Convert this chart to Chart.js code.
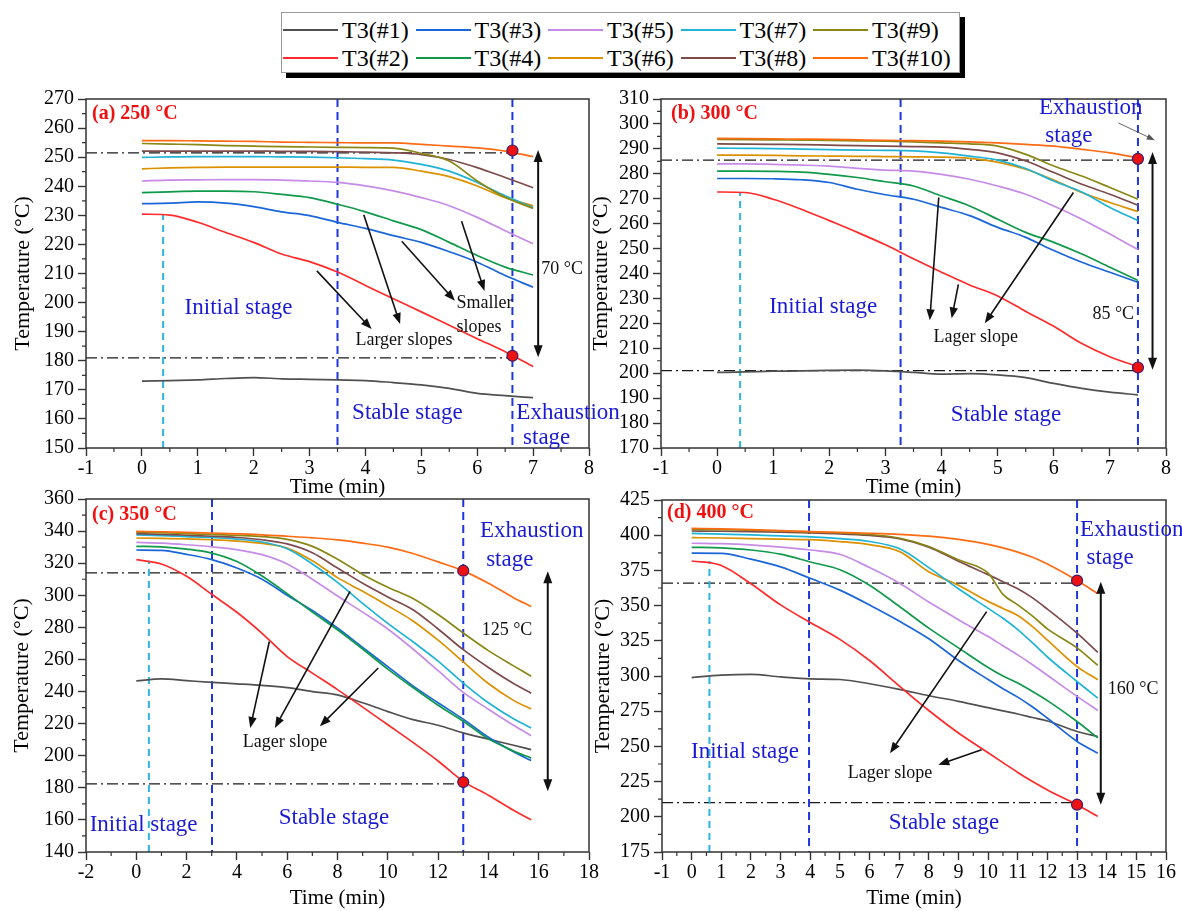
<!DOCTYPE html>
<html>
<head>
<meta charset="utf-8">
<script src="https://cdn.jsdelivr.net/npm/chart.js@4.4.0/dist/chart.umd.min.js"></script>
<style>
html,body{margin:0;padding:0;background:#fff;}
#wrap{position:relative;width:1182px;height:911px;overflow:hidden;background:#fff;}
#wrap canvas{position:absolute;}
#legend{position:absolute;left:281px;top:12px;width:677px;height:59px;border:1px solid #9a9a9a;box-shadow:5px 5px 0 #000;background:#fff;
  font-family:'Liberation Serif','Times New Roman',serif;font-size:24px;color:#000;z-index:5;}
.li{position:absolute;height:28px;display:flex;align-items:center;white-space:nowrap;}
.li .ln{width:55px;height:2px;margin-right:4px;}
</style>
</head>
<body>
<div id="wrap"><div id="legend"></div></div>
<script>
// ---------------- series meta ----------------
const seriesNames = ['T3(#1)','T3(#2)','T3(#3)','T3(#4)','T3(#5)','T3(#6)','T3(#7)','T3(#8)','T3(#9)','T3(#10)'];
const seriesColors = ['#505050','#ff2a2a','#1a66d9','#10994a','#c68be6','#dc9100','#1fb3d6','#7d4b4b','#8a8715','#ff6b13'];

// ---------------- panel (a) 250 °C ----------------
const timeA = [0,0.5,1,1.5,2,2.5,3,3.5,4,4.5,5,5.5,6,6.5,7];
const aT1  = [173.0,173.2,173.4,173.9,174.2,173.8,173.6,173.4,173.2,172.5,171.7,170.5,168.8,168.0,167.3];
const aT2  = [230.4,230.1,227.6,224.1,220.7,216.7,214.1,210.5,205.9,201.3,196.8,192.2,187.6,183.1,178.0];
const aT3  = [234.0,234.2,234.6,234.2,233.0,231.2,229.9,227.6,225.5,223.0,220.7,217.5,213.9,209.3,205.3];
const aT4  = [237.8,238.1,238.3,238.3,238.1,237.2,236.1,233.8,231.2,228.1,225.1,220.7,216.2,212.2,209.5];
const aT5  = [241.8,242.1,242.2,242.3,242.3,242.1,241.8,241.3,240.1,238.4,236.1,233.3,229.3,224.7,220.2];
const aT6  = [246.0,246.3,246.5,246.6,246.6,246.6,246.6,246.6,246.5,246.5,245.2,243.3,240.1,236.1,233.3];
const aT7  = [249.9,250.1,250.2,250.2,250.2,250.1,250.0,249.8,249.5,249.0,247.5,245.2,241.3,236.7,232.7];
const aT8  = [252.1,252.1,252.1,252.1,252.1,252.0,252.0,251.9,251.7,251.5,250.9,249.2,246.4,243.0,239.5];
const aT9  = [254.7,254.5,254.3,254.0,253.8,253.6,253.5,253.4,253.3,253.1,251.3,248.7,241.8,236.2,232.4];
const aT10 = [255.7,255.7,255.6,255.5,255.4,255.2,255.1,255.0,254.9,254.9,254.4,253.8,253.2,252.1,250.2];
const dotsA = [[6.63,252.3],[6.63,181.7]];

// ---------------- panel (b) 300 °C ----------------
const timeB = [0,0.5,1,1.5,2,2.5,3,3.5,4,4.5,5,5.5,6,6.5,7,7.5];
const bT1  = [200.3,200.5,200.8,200.9,201.1,201.2,200.9,200.3,199.6,199.8,199.3,198.2,195.9,193.9,192.4,191.3];
const bT2  = [272.7,272.5,269.8,265.8,261.2,256.5,251.5,245.9,240.5,235.4,231.0,224.8,218.8,211.9,206.6,202.6];
const bT3  = [278.1,278.1,278.0,277.6,276.5,273.8,271.6,269.8,266.5,263.2,258.5,254.5,249.2,244.5,240.5,236.5];
const bT4  = [281.1,281.1,281.0,280.7,279.8,278.5,276.8,275.1,271.1,267.1,261.8,256.5,252.5,247.8,242.5,237.2];
const bT5  = [284.0,284.0,283.8,283.5,283.1,282.2,281.5,281.1,279.8,277.8,275.1,271.8,267.1,261.8,255.8,249.6];
const bT6  = [287.5,287.5,287.4,287.2,287.1,287.0,286.9,286.8,286.7,286.2,284.7,281.8,277.5,272.5,268.5,264.8];
const bT7  = [290.3,290.2,290.1,289.9,289.7,289.5,289.4,289.2,288.4,287.1,285.5,282.1,277.1,272.7,266.5,261.2];
const bT8  = [292.0,291.9,291.8,291.7,291.5,291.3,291.1,290.9,290.7,289.8,288.4,285.1,280.5,275.8,271.8,267.4];
const bT9  = [293.8,293.7,293.6,293.5,293.4,293.2,293.1,292.8,292.4,292.0,291.1,287.8,283.1,279.1,274.5,269.8];
const bT10 = [294.2,294.1,294.0,293.9,293.8,293.6,293.4,293.3,293.1,292.8,292.4,291.8,291.1,289.8,288.4,286.4];
const dotsB = [[7.5,286.0],[7.5,202.3]];

// ---------------- panel (c) 350 °C ----------------
const timeC = [0,1,2,3,4,5,6,7,8,9,10,11,12,13,14,15,15.7];
const cT1  = [246.6,247.9,246.8,245.7,244.8,243.8,242.4,240.0,237.9,233.0,227.5,222.5,219.0,214.2,210.3,206.5,203.8];
const cT2  = [322.2,319.5,311.8,300.6,289.4,276.3,261.8,251.5,241.2,230.3,219.3,208.3,196.7,184.0,175.4,166.0,160.1];
const cT3  = [328.2,328.0,325.5,322.2,317.0,310.0,300.0,290.5,279.6,267.5,255.5,243.5,233.0,222.8,211.5,202.5,197.0];
const cT4  = [330.5,330.2,328.8,326.3,321.0,312.0,301.0,289.5,278.5,266.5,254.0,242.5,231.5,221.5,210.5,203.0,198.5];
const cT5  = [333.0,332.5,331.5,330.2,328.4,325.3,319.5,310.0,299.5,289.5,279.0,266.5,253.0,239.5,229.0,219.0,212.5];
const cT6  = [335.7,335.4,335.1,334.6,333.8,332.3,329.4,321.5,311.0,302.5,293.5,284.0,272.0,258.5,245.0,234.5,229.1];
const cT7  = [337.6,337.2,336.6,336.0,335.0,333.2,329.0,319.5,308.0,295.0,282.5,271.0,259.0,245.3,233.0,223.0,217.3];
const cT8  = [338.4,338.0,337.4,336.8,336.0,334.6,332.0,326.5,317.0,307.5,299.0,291.0,279.0,266.1,255.0,245.0,239.0];
const cT9  = [339.4,339.0,338.4,337.9,337.3,336.6,334.8,330.5,322.5,313.0,305.0,298.0,288.0,276.5,265.5,256.0,249.5];
const cT10 = [339.8,339.6,339.2,338.8,338.3,337.7,336.8,335.8,334.5,332.5,330.0,326.0,320.8,315.2,307.5,298.5,293.0];
const dotsC = [[13,315.3],[13,183.6]];

// ---------------- panel (d) 400 °C ----------------
const timeD = [0,1,2,3,4,5,6,7,8,9,10,10.5,11,11.5,12,13,13.7];
const dT1  = [298.9,300.6,301.2,299.4,298.0,297.5,294.5,290.5,286.0,282.0,277.5,275.2,273.0,270.5,268.0,260.6,257.0];
const dT2  = [381.7,378.5,365.5,350.5,338.0,326.0,311.0,293.0,275.5,259.5,245.5,238.5,231.5,225.0,219.0,208.6,200.3];
const dT3  = [387.2,387.1,383.0,377.5,369.4,361.0,350.5,339.0,326.5,311.0,297.5,291.0,285.0,278.0,270.0,253.5,245.2];
const dT4  = [391.4,391.0,389.5,386.5,381.0,375.5,364.5,349.5,334.0,320.0,306.0,300.0,295.0,289.0,282.5,267.7,256.0];
const dT5  = [394.3,394.0,393.1,391.5,389.5,386.5,377.0,366.0,352.5,340.0,328.0,321.5,315.0,308.0,300.5,285.5,275.5];
const dT6  = [398.3,398.0,397.6,397.2,396.8,395.5,393.3,388.5,374.0,364.5,353.0,348.0,343.0,335.0,325.5,306.7,297.3];
const dT7  = [401.3,400.8,400.2,399.5,398.8,397.5,395.5,390.5,377.0,362.0,348.0,341.0,333.0,323.5,313.5,296.1,284.3];
const dT8  = [403.0,402.8,402.5,402.1,401.6,401.0,399.8,397.5,391.5,381.5,372.0,367.0,362.0,355.5,347.5,330.4,316.7];
const dT9  = [404.2,404.0,403.6,403.0,402.3,401.6,400.5,398.0,392.0,382.5,373.0,358.0,350.5,342.5,333.5,320.0,307.5];
const dT10 = [404.9,404.5,404.0,403.3,402.5,402.0,401.4,400.6,399.3,397.0,393.5,391.0,388.0,384.3,379.5,367.8,358.5];
const dotsD = [[13,367.8],[13,208.6]];

// ---------------- annotations (data coordinates) ----------------
const annA = {
  label:'(a) 250 °C', labelDx:6, labelDy:15,
  cyanX:0.38, cyanTop:230.2, blueX:[3.5,6.63], hLines:[251.5,181.0], hEnd:6.63,
  dbl:[7.09,252.5,181.2],
  arrows:[[3.13,210.9,4.11,190.9],[3.97,230.2,4.62,192.6],[4.65,221.1,5.60,200.6],[5.72,228.0,6.13,204.0]],
  thin:[],
  black:[['70 °C',7.52,211.6,'center'],['Larger slopes',4.69,186.9,'center'],['Smaller',5.63,199.6,'left'],['slopes',5.63,191.4,'left']],
  blue:[['Initial stage',1.73,198.2,'center'],['Stable stage',4.75,162.0,'center'],['Exhaustion',6.70,162.0,'left'],['stage',6.82,153.3,'left']]
};
const annB = {
  label:'(b) 300 °C', labelDx:10, labelDy:15,
  cyanX:0.41, cyanTop:272.6, blueX:[3.27,7.5], hLines:[285.5,201.0], hEnd:7.5,
  dbl:[7.76,288.7,201.4],
  arrows:[[3.95,270.5,3.79,221.2],[4.30,235.6,4.18,222.0],[6.35,272.5,4.77,220.0]],
  thin:[[7.15,300.4,7.80,293.5]],
  black:[['85 °C',7.06,223.7,'center'],['Lager slope',4.61,214.6,'center']],
  blue:[['Initial stage',1.89,226.5,'center'],['Stable stage',5.15,183.4,'center'],['Exhaustion',6.66,306.3,'center'],['stage',6.27,295.1,'center']]
};
const annC = {
  label:'(c) 350 °C', labelDx:6, labelDy:16,
  cyanX:0.5, cyanTop:321.5, blueX:[3.01,13], hLines:[313.9,182.5], hEnd:13,
  dbl:[16.36,314.9,177.8],
  arrows:[[5.29,271.2,4.53,217.3],[8.50,302.4,5.51,217.3],[9.62,254.7,7.30,218.3]],
  thin:[],
  black:[['125 °C',14.74,278.5,'center'],['Lager slope',5.91,208.1,'center']],
  blue:[['Initial stage',0.29,157.0,'center'],['Stable stage',7.86,161.2,'center'],['Exhaustion',15.72,339.8,'center'],['stage',14.85,322.2,'center']]
};
const annD = {
  label:'(d) 400 °C', labelDx:5, labelDy:13,
  cyanX:0.6, cyanTop:381.5, blueX:[3.96,13], hLines:[366.0,210.0], hEnd:13,
  dbl:[13.8,367.0,208.6],
  arrows:[[9.95,345.7,6.69,245.2],[9.78,247.6,8.32,236.9]],
  thin:[],
  black:[['160 °C',14.89,290.9,'center'],['Lager slope',6.69,231.0,'center']],
  blue:[['Initial stage',1.8,246.2,'center'],['Stable stage',8.51,195.8,'center'],['Exhaustion',13.1,403.7,'left'],['stage',13.32,383.6,'left']]
};

// ---------------- styling ----------------
const FONT = "'Liberation Serif','Times New Roman',serif";
const AXIS = '#333333';
const CYAN = '#2bb6e3';
const BLUE_LINE = '#1f35e0';
const BLUE_TEXT = '#1a1ad4';

const panels = [
  {id:'a', left:0,   top:85,  w:640, h:420, area:{l:86,t:12,r:589,b:363}, xMin:-1, xMax:8,  xStep:1, xMinor:0.5, yMin:150, yMax:270, yStep:10, yMinor:5,
   time:timeA, series:[aT1,aT2,aT3,aT4,aT5,aT6,aT7,aT8,aT9,aT10], dots:dotsA, yTitlePad:10, xTitlePad:5, ann:annA},
  {id:'b', left:575, top:85,  w:607, h:420, area:{l:86,t:12,r:591,b:363}, xMin:-1, xMax:8,  xStep:1, xMinor:0.5, yMin:170, yMax:310, yStep:10, yMinor:5,
   time:timeB, series:[bT1,bT2,bT3,bT4,bT5,bT6,bT7,bT8,bT9,bT10], dots:dotsB, yTitlePad:13.5, xTitlePad:5, ann:annB},
  {id:'c', left:0,   top:485, w:640, h:426, area:{l:86,t:14,r:589,b:367}, xMin:-2, xMax:18, xStep:2, xMinor:1,   yMin:140, yMax:360, yStep:20, yMinor:10,
   time:timeC, series:[cT1,cT2,cT3,cT4,cT5,cT6,cT7,cT8,cT9,cT10], dots:dotsC, yTitlePad:9, xTitlePad:0, ann:annC},
  {id:'d', left:575, top:485, w:607, h:426, area:{l:87,t:15,r:591,b:367}, xMin:-1, xMax:16, xStep:1, xMinor:0.5, yMin:175, yMax:425, yStep:25, yMinor:12.5,
   time:timeD, series:[dT1,dT2,dT3,dT4,dT5,dT6,dT7,dT8,dT9,dT10], dots:dotsD, yTitlePad:15.5, xTitlePad:0, ann:annD}
];

// ---------------- legend (HTML) ----------------
(function buildLegend(){
  const lg = document.getElementById('legend');
  const order = [[0,2,4,6,8],[1,3,5,7,9]];
  order.forEach((row, r) => {
    row.forEach((si, c) => {
      const d = document.createElement('div');
      d.className = 'li';
      d.style.left = (1 + c*132.5) + 'px';
      d.style.top = (r === 0 ? 3 : 31) + 'px';
      const ln = document.createElement('span');
      ln.className = 'ln'; ln.style.background = seriesColors[si];
      const tx = document.createElement('span');
      tx.textContent = seriesNames[si];
      d.appendChild(ln); d.appendChild(tx);
      lg.appendChild(d);
    });
  });
})();

// ---------------- drawing helpers ----------------
function arrowHead(ctx, x1, y1, x2, y2, len, half) {
  const a = Math.atan2(y2 - y1, x2 - x1);
  const bx = x2 - len * Math.cos(a), by = y2 - len * Math.sin(a);
  ctx.beginPath();
  ctx.moveTo(x2, y2);
  ctx.lineTo(bx + half * Math.sin(a), by - half * Math.cos(a));
  ctx.lineTo(bx - half * Math.sin(a), by + half * Math.cos(a));
  ctx.closePath();
  ctx.fill();
}
function arrowLine(ctx, x1, y1, x2, y2, len, half, both) {
  const a = Math.atan2(y2 - y1, x2 - x1);
  const sx = both ? x1 + len * 0.7 * Math.cos(a) : x1;
  const sy = both ? y1 + len * 0.7 * Math.sin(a) : y1;
  ctx.beginPath();
  ctx.moveTo(sx, sy);
  ctx.lineTo(x2 - len * 0.7 * Math.cos(a), y2 - len * 0.7 * Math.sin(a));
  ctx.stroke();
  arrowHead(ctx, x1, y1, x2, y2, len, half);
  if (both) arrowHead(ctx, x2, y2, x1, y1, len, half);
}
function isMajor(v, step) {
  const r = v / step;
  return Math.abs(r - Math.round(r)) < 1e-6;
}

function makePlugin(p) {
  const A = p.ann;
  return {
    id: 'annot_' + p.id,
    beforeDatasetsDraw(chart) {
      const {ctx, chartArea: ca, scales: {x, y}} = chart;
      ctx.save();
      // dash-dot horizontal lines
      ctx.strokeStyle = '#1a1a1a'; ctx.lineWidth = 1.3; ctx.setLineDash([11, 4, 2, 4]);
      A.hLines.forEach(v => {
        const yy = y.getPixelForValue(v);
        ctx.beginPath(); ctx.moveTo(ca.left, yy); ctx.lineTo(x.getPixelForValue(A.hEnd), yy); ctx.stroke();
      });
      // cyan dashed (initial stage end)
      ctx.strokeStyle = CYAN; ctx.lineWidth = 2; ctx.setLineDash([7, 5]);
      const cx = x.getPixelForValue(A.cyanX);
      ctx.beginPath(); ctx.moveTo(cx, ca.bottom); ctx.lineTo(cx, y.getPixelForValue(A.cyanTop)); ctx.stroke();
      // blue dashed stage boundaries
      ctx.strokeStyle = BLUE_LINE; ctx.lineWidth = 2; ctx.setLineDash([8, 5]);
      A.blueX.forEach(v => {
        const xx = x.getPixelForValue(v);
        ctx.beginPath(); ctx.moveTo(xx, ca.top); ctx.lineTo(xx, ca.bottom); ctx.stroke();
      });
      ctx.restore();
    },
    afterDraw(chart) {
      const {ctx, chartArea: ca, scales: {x, y}} = chart;
      const X = v => x.getPixelForValue(v), Y = v => y.getPixelForValue(v);
      ctx.save();
      // frame
      ctx.strokeStyle = AXIS; ctx.lineWidth = 1.5; ctx.setLineDash([]);
      ctx.strokeRect(ca.left, ca.top, ca.right - ca.left, ca.bottom - ca.top);
      // minor ticks
      ctx.lineWidth = 1.2;
      ctx.beginPath();
      for (let k = 0; ; k++) {
        const v = p.xMin + k * p.xMinor; if (v > p.xMax + 1e-9) break;
        if (isMajor(v - p.xMin, p.xStep)) continue;
        const xx = X(v); ctx.moveTo(xx, ca.bottom); ctx.lineTo(xx, ca.bottom + 4);
      }
      for (let k = 0; ; k++) {
        const v = p.yMin + k * p.yMinor; if (v > p.yMax + 1e-9) break;
        if (isMajor(v - p.yMin, p.yStep)) continue;
        const yy = Y(v); ctx.moveTo(ca.left, yy); ctx.lineTo(ca.left - 4, yy);
      }
      ctx.stroke();
      // double arrow
      ctx.strokeStyle = '#111'; ctx.fillStyle = '#111'; ctx.lineWidth = 2;
      arrowLine(ctx, X(A.dbl[0]), Y(A.dbl[1]), X(A.dbl[0]), Y(A.dbl[2]), 12, 4.5, true);
      // annotation arrows
      ctx.lineWidth = 1.6;
      A.arrows.forEach(a => arrowLine(ctx, X(a[0]), Y(a[1]), X(a[2]), Y(a[3]), 11, 4.2, false));
      ctx.strokeStyle = '#555'; ctx.fillStyle = '#555'; ctx.lineWidth = 0.9;
      A.thin.forEach(a => arrowLine(ctx, X(a[0]), Y(a[1]), X(a[2]), Y(a[3]), 8, 3, false));
      // black texts
      ctx.fillStyle = '#111'; ctx.textBaseline = 'middle';
      ctx.font = '18px ' + FONT;
      A.black.forEach(t => { ctx.textAlign = t[3]; ctx.fillText(t[0], X(t[1]), Y(t[2])); });
      // blue stage texts
      ctx.fillStyle = BLUE_TEXT; ctx.font = '23px ' + FONT;
      A.blue.forEach(t => { ctx.textAlign = t[3]; ctx.fillText(t[0], X(t[1]), Y(t[2])); });
      // panel label
      ctx.fillStyle = '#f01010'; ctx.font = 'bold 20px ' + FONT; ctx.textAlign = 'left';
      ctx.fillText(A.label, ca.left + A.labelDx, ca.top + A.labelDy);
      ctx.restore();
    }
  };
}

function makeChart(p) {
  const cv = document.createElement('canvas');
  cv.width = p.w; cv.height = p.h;
  cv.style.left = p.left + 'px'; cv.style.top = p.top + 'px';
  cv.style.width = p.w + 'px'; cv.style.height = p.h + 'px';
  document.getElementById('wrap').appendChild(cv);
  const datasets = p.series.map((vals, i) => ({
    label: seriesNames[i],
    data: p.time.map((t, j) => ({x: t, y: vals[j]})),
    borderColor: seriesColors[i],
    backgroundColor: seriesColors[i],
    borderWidth: 1.7,
    pointRadius: 0,
    fill: false,
    cubicInterpolationMode: 'monotone',
    order: 10 - i
  }));
  datasets.push({
    label: 'marks',
    data: p.dots.map(d => ({x: d[0], y: d[1]})),
    showLine: false,
    pointRadius: 5.5,
    pointStyle: 'circle',
    pointBackgroundColor: '#ee1111',
    pointBorderColor: '#3b1d6b',
    pointBorderWidth: 1.2,
    order: 0,
    clip: false
  });
  const tickFont = {family: FONT, size: 20, lineHeight: 1.0};
  const gridOpts = {display: true, drawOnChartArea: false, drawTicks: true, tickLength: 8, tickColor: AXIS, tickWidth: 1.4};
  new Chart(cv, {
    type: 'line',
    data: {datasets},
    options: {
      responsive: false,
      animation: false,
      devicePixelRatio: 1,
      events: [],
      layout: {padding: {left: 0, top: p.area.t, right: p.w - p.area.r, bottom: 0}},
      plugins: {legend: {display: false}, tooltip: {enabled: false}},
      scales: {
        x: {
          type: 'linear', min: p.xMin, max: p.xMax,
          ticks: {stepSize: p.xStep, font: tickFont, color: '#000', padding: 3, maxRotation: 0, minRotation: 0, autoSkip: false,
                  callback: v => String(v)},
          grid: gridOpts,
          border: {display: false},
          title: {display: true, text: 'Time (min)', color: '#000', font: {family: FONT, size: 21}, padding: {top: 0, bottom: p.xTitlePad}},
          afterFit: s => { s.height = p.h - p.area.b; }
        },
        y: {
          type: 'linear', min: p.yMin, max: p.yMax,
          ticks: {stepSize: p.yStep, font: tickFont, color: '#000', padding: 4, autoSkip: false, callback: v => String(v)},
          grid: gridOpts,
          border: {display: false},
          title: {display: true, text: 'Temperature (°C)', color: '#000', font: {family: FONT, size: 22}, padding: {top: p.yTitlePad, bottom: 0}},
          afterFit: s => { s.width = p.area.l; }
        }
      }
    },
    plugins: [makePlugin(p)]
  });
}

panels.forEach(makeChart);
</script>
</body>
</html>
